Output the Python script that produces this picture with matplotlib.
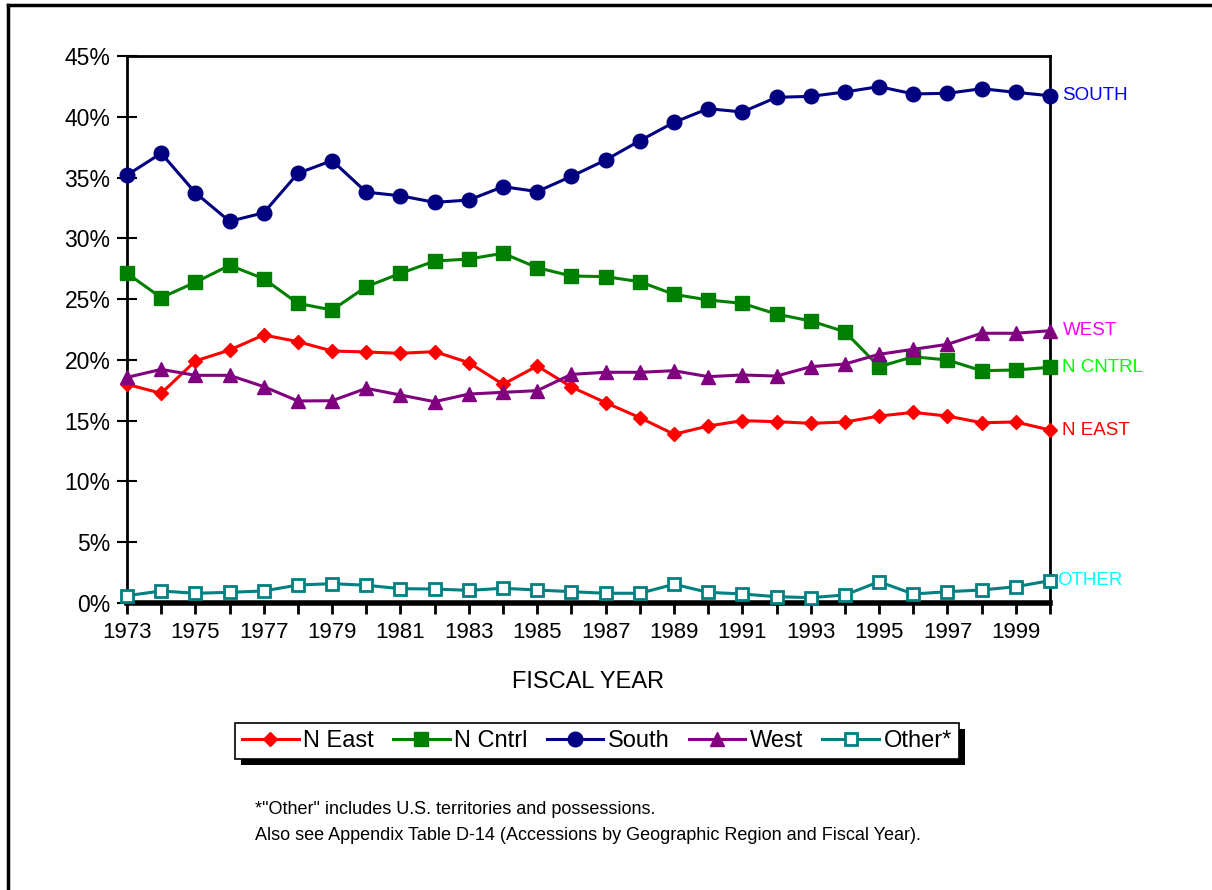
import matplotlib.pyplot as plt
from matplotlib.lines import Line2D
from matplotlib.patches import Rectangle

plt.rcParams['font.family'] = ['Liberation Sans', 'DejaVu Sans']

years = list(range(1973, 2001))

n_east = [17.99, 17.25, 19.91, 20.81, 22.05, 21.5, 20.73, 20.65, 20.54, 20.68,
          19.77, 17.99, 19.5, 17.77, 16.48, 15.25, 13.88, 14.56, 15.0, 14.92,
          14.78, 14.89, 15.38, 15.68, 15.38, 14.83, 14.89, 14.23]
n_cntrl = [27.12, 25.12, 26.38, 27.78, 26.68, 24.65, 24.1, 26.02, 27.12, 28.13,
           28.3, 28.77, 27.59, 26.9, 26.85, 26.43, 25.39, 24.93, 24.65, 23.77,
           23.2, 22.32, 19.44, 20.26, 19.99, 19.11, 19.17, 19.39]
south = [35.2, 37.0, 33.75, 31.4, 32.1, 35.35, 36.4, 33.8, 33.5, 32.96,
         33.15, 34.25, 33.85, 35.1, 36.44, 38.03, 39.54, 40.67, 40.39, 41.6,
         41.68, 42.04, 42.48, 41.88, 41.93, 42.31, 42.01, 41.73]
west = [18.56, 19.22, 18.73, 18.73, 17.8, 16.62, 16.64, 17.66, 17.11, 16.56,
        17.19, 17.33, 17.47, 18.81, 18.98, 18.98, 19.11, 18.62, 18.76, 18.67,
        19.44, 19.66, 20.46, 20.87, 21.28, 22.19, 22.19, 22.4]
other = [0.6, 0.99, 0.8, 0.88, 0.99, 1.48, 1.59, 1.46, 1.18, 1.15,
         1.04, 1.21, 1.07, 0.93, 0.8, 0.8, 1.54, 0.88, 0.74, 0.52,
         0.44, 0.66, 1.75, 0.74, 0.93, 1.07, 1.34, 1.84]

series = [
    ("N East", n_east, "#FF0000", "D", 7.5, "N EAST", "#FF0000"),
    ("N Cntrl", n_cntrl, "#008000", "s", 10.5, "N CNTRL", "#00FF00"),
    ("South", south, "#000080", "o", 10.5, "SOUTH", "#0000FF"),
    ("West", west, "#800080", "^", 10.5, "WEST", "#FF00FF"),
]

fig = plt.figure(figsize=(12.12, 8.9), dpi=100)
ax = fig.add_axes([127 / 1212, 1 - 603 / 890, (1050 - 127) / 1212, (603 - 56) / 890])

for name, vals, col, mk, ms, tag, tagcol in series:
    ax.plot(years, vals, color=col, lw=2.2, marker=mk, ms=ms, label=name, clip_on=False, zorder=3)
    ax.annotate(tag, (years[-1], vals[-1]), xytext=(9, 0), textcoords="offset points",
                color=tagcol, fontsize=13.5, va="center", ha="left", annotation_clip=False)

ax.plot(years, other, color="#008080", lw=2.2, marker="s", ms=8, mfc="white", mew=2,
        label="Other*", clip_on=False, zorder=3)
ax.annotate("OTHER", (years[-1], other[-1]), xytext=(5, 0), textcoords="offset points",
            color="#00FFFF", fontsize=13.5, va="center", ha="left", annotation_clip=False)

ax.set_xlim(1973, 2000)
ax.set_ylim(0, 45)
ax.set_yticks(range(0, 46, 5))
ax.set_yticklabels([f"{v}%" for v in range(0, 46, 5)])
ax.set_xticks(years)
ax.set_xticklabels([str(y) if (y - 1973) % 2 == 0 else "" for y in years])
ax.tick_params(axis="y", direction="inout", length=14, width=1.5, labelsize=16.5, pad=5)
ax.tick_params(axis="x", direction="out", length=8, width=2, labelsize=16, pad=6)
for s in ["left", "top", "right"]:
    ax.spines[s].set_linewidth(2)
ax.spines["bottom"].set_linewidth(4)
ax.set_xlabel("FISCAL YEAR", fontsize=17, labelpad=20)

leg = fig.legend(loc="center", bbox_to_anchor=(597 / 1212, 1 - 741 / 890), ncol=5,
                 fontsize=17, frameon=True, fancybox=False, shadow=False, framealpha=1,
                 handlelength=2.4, handletextpad=0.2, columnspacing=0.8,
                 borderpad=0.3, edgecolor="black")
leg.get_frame().set_linewidth(1.2)

# drop shadow behind the legend box
fig.canvas.draw()
bb = leg.get_window_extent().transformed(fig.transFigure.inverted())
fig.add_artist(Rectangle((bb.x0 + 6 / 1212, bb.y0 - 6 / 890), bb.width, bb.height,
                         transform=fig.transFigure, facecolor="black", edgecolor="none",
                         zorder=leg.get_zorder() - 1))

fig.text(255 / 1212, 1 - 810 / 890, "*\"Other\" includes U.S. territories and possessions.",
         fontsize=13, va="center")
fig.text(255 / 1212, 1 - 836 / 890,
         "Also see Appendix Table D-14 (Accessions by Geographic Region and Fiscal Year).",
         fontsize=13, va="center")

# outer frame (top and left edges only visible)
fig.add_artist(Line2D([8 / 1212, 1], [1 - 5 / 890, 1 - 5 / 890], color="black", lw=2.5,
                      transform=fig.transFigure))
fig.add_artist(Line2D([8 / 1212, 8 / 1212], [0, 1 - 5 / 890], color="black", lw=2.5,
                      transform=fig.transFigure))

fig.savefig("out.png", dpi=100)
